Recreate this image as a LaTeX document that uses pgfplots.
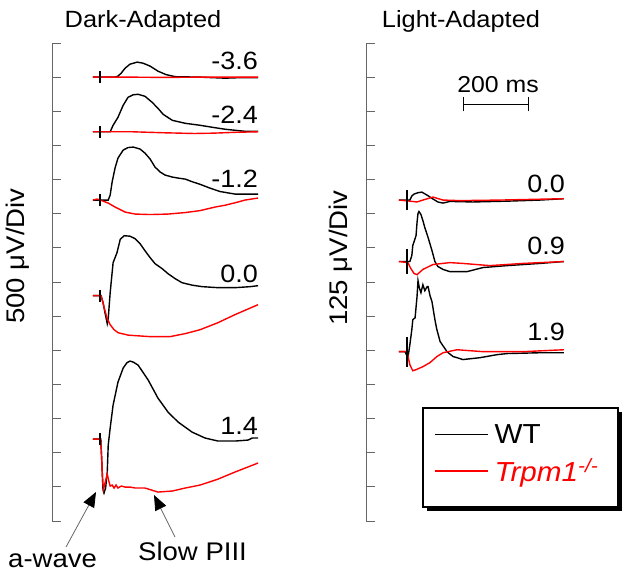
\documentclass[border=0pt]{standalone}
\usepackage{fontspec}
\setmainfont{Liberation Sans}[FakeStretch=1.08]
\usepackage{pgfplots}
\pgfplotsset{compat=1.18}
\usetikzlibrary{arrows.meta}
\definecolor{axgray}{gray}{0.4}
\begin{document}
\begin{tikzpicture}
\useasboundingbox (0,0) rectangle (632pt,-579pt);
\pgfplotsset{
  erg/.style={scale only axis, height=478pt, ymin=0, anchor=south west,
    axis y line=left, axis x line=none,
    axis line style={-,axgray,line width=0.9pt},
    ytick style={axgray,line width=0.9pt},
    tick align=inside, major tick length=9pt,
    yticklabels={}, xtick=\empty, clip=false},
  wt/.style={black,line width=1.4pt},
  ko/.style={red,line width=1.4pt},
  fl/.style={black,line width=1.3pt,forget plot},
}
% legend box with its shadow
\fill[black] (427pt,-412pt) rectangle (622pt,-511pt);
\draw[black, line width=1.4pt, fill=white] (423pt,-408pt) rectangle (618pt,-507pt);
% ---------------- Dark-adapted ----------------
\begin{axis}[erg, at={(52pt,-521pt)}, width=210.6pt, xmin=-148, xmax=500,
  ymax=7000, ytick distance=500]
% -3.6  (baseline 6500 uV)
\addplot[wt,forget plot] table[row sep=\\, y expr=\thisrow{v}+6500] {
t v\\ -22 0\\ 46 0\\ 55 15\\ 65 59\\ 77 132\\ 92 190\\ 114 220\\ 132 205\\ 154 161\\
178 88\\ 203 37\\ 231 7\\ 308 0\\ 385 -15\\ 431 -7\\ 486 -7\\};
\addplot[ko,forget plot] table[row sep=\\, y expr=\thisrow{v}+6500] {
t v\\ -22 0\\ 100 0\\ 200 -4\\ 300 0\\ 400 0\\ 486 0\\};
\addplot[fl] coordinates {(0,6415) (0,6585)};
% -2.4  (baseline 5700 uV)
\addplot[wt,forget plot] table[row sep=\\, y expr=\thisrow{v}+5700] {
t v\\ -22 0\\ 31 0\\ 40 95\\ 55 212\\ 71 388\\ 86 505\\ 102 542\\ 117 549\\ 138 520\\
160 432\\ 178 344\\ 194 256\\ 222 168\\ 262 124\\ 308 95\\ 345 66\\ 385 37\\ 415 22\\
446 7\\ 486 7\\};
\addplot[ko,forget plot] table[row sep=\\, y expr=\thisrow{v}+5700] {
t v\\ -22 0\\ 100 0\\ 200 -15\\ 290 -25\\ 350 -20\\ 420 -7\\ 486 0\\};
\addplot[fl] coordinates {(0,5615) (0,5785)};
% -1.2  (baseline 4700 uV)
\addplot[wt,forget plot] table[row sep=\\, y expr=\thisrow{v}+4700] {
t v\\ -22 0\\ 25 0\\ 31 73\\ 37 264\\ 46 469\\ 55 615\\ 71 732\\ 86 769\\ 102 776\\
123 747\\ 138 688\\ 154 600\\ 169 483\\ 185 410\\ 200 366\\ 222 337\\ 240 322\\
262 307\\ 283 269\\ 308 230\\ 338 175\\ 369 125\\ 415 88\\ 486 88\\};
\addplot[ko,forget plot] table[row sep=\\, y expr=\thisrow{v}+4700] {
t v\\ -22 0\\ -9 15\\ 9 -15\\ 25 -44\\ 46 -102\\ 77 -176\\ 108 -205\\ 154 -212\\
209 -205\\ 262 -183\\ 308 -154\\ 354 -102\\ 385 -75\\ 415 -40\\ 446 0\\ 486 30\\};
\addplot[fl] coordinates {(0,4610) (0,4790)};
% 0.0  (baseline 3300 uV)
\addplot[wt,forget plot] table[row sep=\\, y expr=\thisrow{v}+3300] {
t v\\ -22 0\\ 3 0\\ 9 -102\\ 15 -249\\ 22 -410\\ 25 -337\\ 31 44\\ 40 483\\ 52 630\\
62 825\\ 74 878\\ 92 871\\ 108 834\\ 123 761\\ 138 659\\ 154 556\\ 169 469\\ 191 395\\
209 322\\ 231 249\\ 252 190\\ 283 154\\ 314 132\\ 363 117\\ 415 117\\ 462 132\\ 486 146\\};
\addplot[ko,forget plot] table[row sep=\\, y expr=\thisrow{v}+3300] {
t v\\ -22 0\\ 3 0\\ 9 -102\\ 15 -220\\ 22 -337\\ 31 -425\\ 43 -498\\ 55 -542\\ 86 -578\\
154 -600\\ 215 -600\\ 262 -556\\ 308 -498\\ 363 -395\\ 415 -278\\ 486 -132\\};
\addplot[fl] coordinates {(0,3210) (0,3390)};
% 1.4  (baseline 1200 uV)
\addplot[wt,forget plot] table[row sep=\\, y expr=\thisrow{v}+1200] {
t v\\ -22 0\\ 2 0\\ 5 -307\\ 9 -747\\ 12 -791\\ 17 -717\\ 22 -483\\ 25 -88\\ 31 161\\
40 498\\ 55 834\\ 71 1040\\ 83 1120\\ 92 1142\\ 102 1127\\ 117 1083\\ 148 864\\
178 600\\ 209 395\\ 240 249\\ 283 102\\ 323 15\\ 363 -29\\ 415 -29\\ 455 -15\\
468 15\\ 486 15\\};
\addplot[ko,forget plot] table[row sep=\\, y expr=\thisrow{v}+1200] {
t v\\ -22 0\\ 2 0\\ 5 -307\\ 8 -630\\ 11 -732\\ 15 -644\\ 22 -512\\ 26 -600\\ 31 -688\\
37 -673\\ 43 -717\\ 49 -673\\ 55 -717\\ 65 -688\\ 77 -703\\ 92 -703\\ 108 -717\\
138 -717\\ 178 -776\\ 222 -761\\ 262 -717\\ 308 -673\\ 363 -586\\ 415 -483\\ 486 -351\\};
\addplot[fl] coordinates {(0,1115) (0,1285)};
\end{axis}
% ---------------- Light-adapted ----------------
\begin{axis}[erg, at={(366pt,-521pt)}, width=203.45pt, xmin=-126, xmax=500,
  ymax=1750, ytick distance=125,
  legend cell align=left,
  legend image code/.code={\draw[#1] (0pt,0pt) -- (53pt,0pt);},
  legend style={at={(0.280,0.2364)}, anchor=north west, draw=none,
    fill=none, font=\fontsize{27.5}{30}\selectfont,
    inner xsep=11pt, inner ysep=14pt, row sep=10pt, column sep=4pt}]
\addlegendimage{wt}
\addlegendentry{WT}
\addlegendimage{ko}
\addlegendentry{\textcolor{red}{\textit{Trpm1}\textsuperscript{\textit{-/-}}}}
% 0.0  (baseline 1175 uV)
\addplot[wt,forget plot] table[row sep=\\, y expr=\thisrow{v}+1175] {
t v\\ -25 0\\ 9 0\\ 15 15\\ 22 22\\ 34 27\\ 46 29\\ 62 18\\ 80 4\\ 95 -7\\ 111 -11\\
132 -5\\ 203 -7\\ 308 -4\\ 409 0\\ 483 5\\};
\addplot[ko,forget plot] table[row sep=\\, y expr=\thisrow{v}+1175] {
t v\\ -25 0\\ 9 -4\\ 31 -7\\ 49 0\\ 80 11\\ 111 0\\ 163 -2\\ 286 0\\ 483 5\\};
\addplot[fl] coordinates {(0,1138) (0,1212)};
% 0.9  (baseline 950 uV)
\addplot[wt,forget plot] table[row sep=\\, y expr=\thisrow{v}+950] {
t v\\ -25 0\\ 9 0\\ 15 22\\ 18 59\\ 25 84\\ 28 95\\ 31 143\\ 34 176\\ 37 183\\ 43 172\\
49 150\\ 55 124\\ 65 88\\ 77 40\\ 86 0\\ 95 -18\\ 111 -29\\ 132 -37\\ 185 -37\\
234 -22\\ 308 -15\\ 409 -7\\ 483 0\\};
\addplot[ko,forget plot] table[row sep=\\, y expr=\thisrow{v}+950] {
t v\\ -25 0\\ 3 -4\\ 12 -26\\ 22 -44\\ 31 -48\\ 49 -29\\ 80 -11\\ 132 -4\\ 172 -7\\
255 -15\\ 357 -7\\ 483 0\\};
\addplot[fl] coordinates {(0,905) (0,995)};
% 1.9  (baseline 620 uV)
\addplot[wt,forget plot] table[row sep=\\, y expr=\thisrow{v}+620] {
t v\\ -25 0\\ -6 0\\ 3 -22\\ 9 26\\ 15 81\\ 18 117\\ 25 124\\ 31 201\\ 34 260\\ 38 234\\
43 216\\ 49 245\\ 55 223\\ 62 238\\ 65 238\\ 71 205\\ 77 183\\ 86 117\\ 92 81\\
102 37\\ 117 11\\ 123 0\\ 142 -18\\ 154 -22\\ 172 -29\\ 225 -22\\ 277 -11\\ 308 -7\\
409 -4\\ 483 -4\\};
\addplot[ko,forget plot] table[row sep=\\, y expr=\thisrow{v}+620] {
t v\\ -25 0\\ 0 0\\ 9 -48\\ 18 -70\\ 28 -66\\ 49 -55\\ 71 -40\\ 92 -18\\ 111 -4\\
154 7\\ 234 0\\ 357 0\\ 483 7\\};
\addplot[fl] coordinates {(0,565) (0,675)};
% scale bar 200 ms
\addplot[black,line width=1pt,forget plot] coordinates {(175,1526) (375,1526)};
\addplot[black,line width=1pt,forget plot] coordinates {(175,1500) (175,1552)};
\addplot[black,line width=1pt,forget plot] coordinates {(375,1500) (375,1552)};
\end{axis}
% ---------------- text ----------------
\begin{scope}[every node/.style={inner sep=0pt, font=\fontsize{25}{30}\selectfont}]
\node[anchor=base, font=\fontsize{23.5}{28}\selectfont] at (143pt,-27pt) {Dark-Adapted};
\node[anchor=base, font=\fontsize{23.5}{28}\selectfont] at (461pt,-27pt) {Light-Adapted};
\node[rotate=90, font=\fontsize{25.5}{30}\selectfont] at (18pt,-256pt) {500 μV/Div};
\node[rotate=90, font=\fontsize{25.5}{30}\selectfont] at (341pt,-258pt) {125 μV/Div};
\node[anchor=base east] at (258pt,-69pt) {-3.6};
\node[anchor=base east] at (258pt,-123pt) {-2.4};
\node[anchor=base east] at (258pt,-187pt) {-1.2};
\node[anchor=base east] at (258pt,-282pt) {0.0};
\node[anchor=base east] at (258pt,-434pt) {1.4};
\node[anchor=base east] at (565pt,-192pt) {0.0};
\node[anchor=base east] at (565pt,-254pt) {0.9};
\node[anchor=base east] at (565pt,-340pt) {1.9};
\node[anchor=base, font=\fontsize{23}{28}\selectfont] at (498pt,-92pt) {200 ms};
\node[anchor=base west, font=\fontsize{25.5}{30}\selectfont] at (8pt,-567pt) {a-wave};
\node[anchor=base west, font=\fontsize{25.5}{30}\selectfont] at (138pt,-560pt) {Slow PIII};
\end{scope}
\draw[axgray, line width=0.8pt, -{Triangle[length=15pt,width=12pt,color=black]}]
  (66pt,-547pt) -- (96pt,-492pt);
\draw[axgray, line width=0.8pt, -{Triangle[length=15pt,width=12pt,color=black]}]
  (175pt,-537pt) -- (154pt,-495pt);
\end{tikzpicture}
\end{document}
